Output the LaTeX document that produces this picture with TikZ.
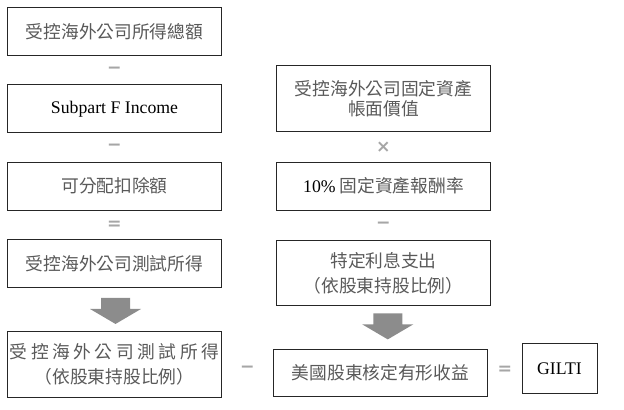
\documentclass[tikz,border=0pt]{standalone}
\usepackage{fontspec}
\setmainfont{Liberation Serif}
\newfontfamily\cjk{Noto Sans CJK TC}
\newfontfamily\cjkwide[LetterSpace=20]{Noto Sans CJK TC}
\newfontfamily\opfont{DejaVu Sans}
\usepackage{xcolor}
\usepackage{tikz}
\usetikzlibrary{positioning}
\definecolor{boxline}{HTML}{262626}
\definecolor{cjkgrey}{HTML}{595959}
\definecolor{opgrey}{HTML}{A6A6A6}
\definecolor{arrowgrey}{HTML}{8C8C8C}
\tikzstyle{box} = [rectangle, draw=boxline, line width=0.75pt, text=cjkgrey,
    font=\cjk\fontsize{13.3}{16}\selectfont, align=center,
    minimum width=161pt, minimum height=36pt, inner sep=0pt]
\tikzstyle{op} = [text=opgrey, font=\opfont\bfseries\fontsize{13}{13}\selectfont]
\tikzset{bigarrow/.pic={
    \fill[arrowgrey] (-14.5,-13) -- (14.5,-13) -- (14.5,-2) -- (25.5,-2)
        -- (0,13) -- (-25.5,-2) -- (-14.5,-2) -- cycle;}}

\begin{document}
\begin{tikzpicture}[x=0.75pt, y=-0.75pt, node distance=58pt]
        \useasboundingbox (0,0) rectangle (624,410);
        % Place nodes
        \node [box] (gross) at (114.5,31.5) {受控海外公司所得總額};
        \node [box, below of=gross] (subf) {\rmfamily\color{black}Subpart F Income};
        \node [box, below of=subf] (deduct) {可分配扣除額};
        \node [box, below of=deduct] (tested) {受控海外公司測試所得};
        \node [box, below of=tested, node distance=76pt, minimum height=49.5pt] (share)
            {{\cjkwide 受控海外公司測試所得}\\[2.75pt]（依股東持股比例）};
        \node [box, right of=deduct, node distance=201.75pt] (rate)
            {{\rmfamily\color{black}10\%} 固定資產報酬率};
        \node [box, above of=rate, node distance=65.6pt, minimum height=49.5pt] (assets)
            {受控海外公司固定資產\\[-1pt]帳面價值};
        \node [box, below of=rate, node distance=65.25pt, minimum height=48.75pt] (interest)
            {特定利息支出\\[2.75pt]（依股東持股比例）};
        \node [box, below of=interest, node distance=75pt, xshift=-2.25pt, minimum height=35.25pt] (tangible)
            {美國股東核定有形收益};
        \node [box, right of=tangible, node distance=134.25pt, yshift=3.4pt, minimum width=56.25pt,
            minimum height=37.5pt, text=black, font=\rmfamily\fontsize{13.3}{16}\selectfont] (gilti) {GILTI};
        % Operators and arrows
        \path (gross) -- node[op] {−} (subf);
        \path (subf) -- node[op] {−} (deduct);
        \path (deduct) -- node[op] {=} (tested);
        \path (tested.south) -- pic[xshift=0.75pt, pos=0.53] {bigarrow} (share.north);
        \path (assets.south) -- node[op] {×} (rate.north);
        \path (rate) -- node[op] {−} (interest);
        \path (interest.south) -- pic[xshift=4.25pt, pos=0.47] {bigarrow} (tangible.north);
        \path (share.east) -- node[op] {−} (tangible.west);
        \path (tangible) -- node[op] {=} (gilti);
\end{tikzpicture}
\end{document}
